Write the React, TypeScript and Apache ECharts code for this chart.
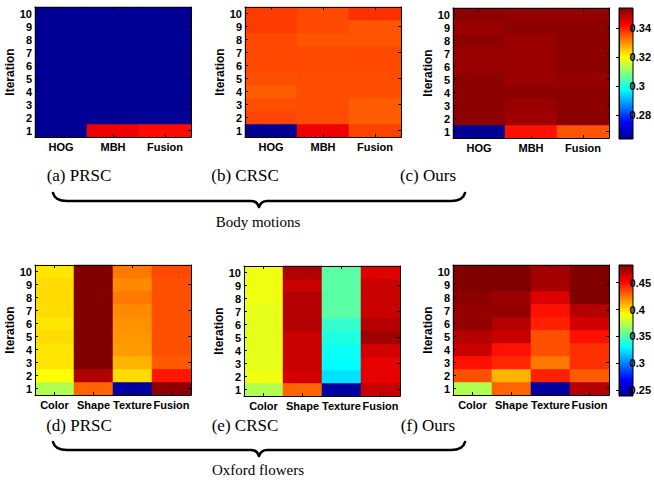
import React, { useEffect, useRef } from 'react';
import * as echarts from 'echarts';

// ---------- data ----------
const iterations = ['1', '2', '3', '4', '5', '6', '7', '8', '9', '10'];
const bodyFeatures = ['HOG', 'MBH', 'Fusion'];
const flowerFeatures = ['Color', 'Shape', 'Texture', 'Fusion'];

// each inner array: values for iterations 1..10 of one feature column
const prscBody = [
  [0.264, 0.264, 0.264, 0.264, 0.264, 0.264, 0.264, 0.264, 0.264, 0.264],
  [0.344, 0.264, 0.264, 0.264, 0.264, 0.264, 0.264, 0.264, 0.264, 0.264],
  [0.3416, 0.264, 0.264, 0.264, 0.264, 0.264, 0.264, 0.264, 0.264, 0.264],
];
const crscBody = [
  [0.264, 0.3364, 0.3354, 0.3345, 0.3354, 0.3361, 0.3361, 0.3361, 0.3372, 0.3372],
  [0.344, 0.3357, 0.3357, 0.3357, 0.3357, 0.3361, 0.3361, 0.335, 0.3361, 0.3361],
  [0.3367, 0.3345, 0.3345, 0.3357, 0.3357, 0.3361, 0.3361, 0.335, 0.335, 0.3383],
];
const oursBody = [
  [0.264, 0.3526, 0.3526, 0.3526, 0.3526, 0.3515, 0.3515, 0.3526, 0.3515, 0.3526],
  [0.3411, 0.3509, 0.3515, 0.3526, 0.3515, 0.3515, 0.3515, 0.3515, 0.3526, 0.352],
  [0.335, 0.3526, 0.3526, 0.3526, 0.352, 0.3526, 0.3526, 0.3526, 0.3526, 0.352],
];
const prscFlower = [
  [0.3725, 0.3915, 0.3975, 0.3975, 0.3998, 0.3975, 0.3998, 0.3998, 0.3998, 0.3975],
  [0.4286, 0.4715, 0.483, 0.483, 0.483, 0.483, 0.483, 0.483, 0.483, 0.483],
  [0.2439, 0.3998, 0.4096, 0.4152, 0.4166, 0.4181, 0.4196, 0.4237, 0.4196, 0.4237],
  [0.4798, 0.4476, 0.431, 0.4335, 0.4335, 0.4335, 0.4335, 0.4335, 0.4335, 0.4352],
];
const crscFlower = [
  [0.3725, 0.3878, 0.3854, 0.3854, 0.3854, 0.3854, 0.3854, 0.3878, 0.3878, 0.3878],
  [0.4286, 0.4632, 0.4657, 0.4657, 0.4657, 0.4706, 0.4706, 0.4706, 0.4657, 0.4715],
  [0.2439, 0.3232, 0.3305, 0.3329, 0.3376, 0.3425, 0.352, 0.352, 0.352, 0.352],
  [0.4657, 0.4586, 0.4586, 0.4632, 0.4752, 0.4706, 0.4657, 0.4657, 0.4657, 0.4601],
];
const oursFlower = [
  [0.3725, 0.4335, 0.4488, 0.4657, 0.4706, 0.4781, 0.4781, 0.4798, 0.483, 0.483],
  [0.4286, 0.4096, 0.443, 0.4488, 0.4657, 0.4706, 0.4781, 0.4767, 0.483, 0.483],
  [0.2439, 0.4449, 0.4237, 0.4335, 0.4335, 0.4449, 0.4488, 0.461, 0.4737, 0.4752],
  [0.4706, 0.431, 0.441, 0.441, 0.4488, 0.4632, 0.4706, 0.483, 0.483, 0.483],
];

const bodyRange = [0.2634, 0.3538];
const flowerRange = [0.239, 0.483];
const bodyTicks = [0.28, 0.3, 0.32, 0.34];
const flowerTicks = [0.25, 0.3, 0.35, 0.4, 0.45];

const captionsBody = ['(a) PRSC', '(b) CRSC', '(c) Ours'];
const captionsFlower = ['(d) PRSC', '(e) CRSC', '(f) Ours'];
const groupTitles = ['Body motions', 'Oxford flowers'];
const yName = 'Iteration';

// ---------- style / layout ----------
const jet = ['#00008f', '#0000ff', '#0080ff', '#00ffff', '#80ff80', '#ffff00', '#ff8000', '#ff0000', '#800000'];
const SANS = '"Liberation Sans", Arial, sans-serif';
const SERIF = '"Liberation Serif", "Times New Roman", serif';

const panelBoxes = [
  { left: 35, top: 7, width: 156, height: 130 },
  { left: 245, top: 7, width: 156, height: 130 },
  { left: 453, top: 8, width: 156, height: 130 },
  { left: 35, top: 265, width: 156, height: 130 },
  { left: 244, top: 266, width: 156, height: 130 },
  { left: 453, top: 265, width: 156, height: 130 },
];
const colorbarBoxes = [
  { left: 619, top: 8, width: 14, height: 131 },
  { left: 619, top: 265, width: 14, height: 131 },
];
const captionX = [79, 245, 428];
const captionY = [175, 425];
const braceY = [193, 442];
const groupTitleY = [222, 470];

const panels = [
  { features: bodyFeatures, values: prscBody, vm: 0 },
  { features: bodyFeatures, values: crscBody, vm: 0 },
  { features: bodyFeatures, values: oursBody, vm: 0 },
  { features: flowerFeatures, values: prscFlower, vm: 1 },
  { features: flowerFeatures, values: crscFlower, vm: 1 },
  { features: flowerFeatures, values: oursFlower, vm: 1 },
];

const bracePathD =
  'M0 0 Q2 8 14 8 L198 8 Q204 8 206 14 Q208 8 214 8 L398 8 Q410 8 412 0';

let braceRegistered = false;
function ensureBrace() {
  if (braceRegistered) return;
  echarts.graphic.registerShape('brace', echarts.graphic.extendPath(bracePathD, {}));
  braceRegistered = true;
}

function buildOption() {
  const labelFont = { fontFamily: SANS, fontWeight: 'bold' as const, fontSize: 11, color: '#000' };
  const lineStyle = { color: '#000', width: 1 };
  const grid: any[] = [];
  const xAxis: any[] = [];
  const yAxis: any[] = [];
  const series: any[] = [];

  panels.forEach((p, i) => {
    grid.push({ ...panelBoxes[i], containLabel: false });
    const common = {
      gridIndex: i,
      type: 'category',
      axisLine: { show: true, lineStyle, onZero: false },
      axisTick: { show: true, inside: true, alignWithLabel: true, length: 3, lineStyle },
      splitLine: { show: false },
      z: 10,
    };
    xAxis.push({ ...common, data: p.features, position: 'bottom', axisLabel: { ...labelFont, margin: 4, interval: 0 } });
    xAxis.push({ ...common, data: p.features, position: 'top', axisLabel: { show: false } });
    yAxis.push({
      ...common,
      data: iterations,
      position: 'left',
      axisLabel: { ...labelFont, margin: 3, interval: 0 },
      name: yName,
      nameLocation: 'middle',
      nameRotate: 90,
      nameGap: 13,
      nameTextStyle: { fontFamily: SANS, fontWeight: 'bold', fontSize: 12, color: '#000' },
    });
    yAxis.push({ ...common, data: iterations, position: 'right', axisLabel: { show: false } });

    const data: any[] = [];
    p.values.forEach((col, ci) => col.forEach((v, ri) => data.push([ci, ri, v])));
    series.push({
      type: 'heatmap',
      xAxisIndex: 2 * i,
      yAxisIndex: 2 * i,
      data,
      itemStyle: { borderWidth: 0 },
      emphasis: { disabled: true },
      silent: true,
    });
  });

  const ranges = [bodyRange, flowerRange];
  const ticks = [bodyTicks, flowerTicks];
  colorbarBoxes.forEach((b, k) => {
    const gi = grid.length;
    grid.push({ ...b, containLabel: false });
    xAxis.push({ gridIndex: gi, type: 'value', show: false, min: 0, max: 1 });
    yAxis.push({
      gridIndex: gi,
      type: 'value',
      min: ranges[k][0],
      max: ranges[k][1],
      position: 'right',
      axisLine: { show: true, lineStyle },
      axisTick: { show: true, inside: true, length: 3, lineStyle, customValues: ticks[k] },
      axisLabel: {
        ...labelFont,
        margin: 2,
        customValues: ticks[k],
        formatter: (v: number) => String(+v.toFixed(2)),
      },
      splitLine: { show: false },
      z: 10,
    });
  });

  const visualMap = [
    { show: false, seriesIndex: [0, 1, 2], min: bodyRange[0], max: bodyRange[1], dimension: 2, inRange: { color: jet } },
    { show: false, seriesIndex: [3, 4, 5], min: flowerRange[0], max: flowerRange[1], dimension: 2, inRange: { color: jet } },
  ];

  const stops = jet.map((c, i) => ({ offset: i / (jet.length - 1), color: c }));
  const graphic: any[] = [];
  colorbarBoxes.forEach((b) => {
    graphic.push({
      type: 'rect',
      shape: { x: b.left, y: b.top, width: b.width, height: b.height },
      style: { fill: new echarts.graphic.LinearGradient(0, 1, 0, 0, stops), stroke: '#000', lineWidth: 1 },
      z: 1,
    });
  });
  const textStyle = (text: string, x: number, y: number, size: number) => ({
    type: 'text',
    style: {
      text,
      x,
      y,
      font: `${size}px ${SERIF}`,
      fill: '#000',
      align: 'center',
      verticalAlign: 'middle',
      textAlign: 'center',
      textVerticalAlign: 'middle',
    },
    z: 20,
  });
  captionsBody.forEach((c, i) => graphic.push(textStyle(c, captionX[i], captionY[0], 17)));
  captionsFlower.forEach((c, i) => graphic.push(textStyle(c, captionX[i], captionY[1], 17)));
  groupTitles.forEach((t, i) => graphic.push(textStyle(t, 258, groupTitleY[i], 15)));
  braceY.forEach((y) => {
    graphic.push({
      type: 'brace',
      x: 53,
      y,
      scaleX: 1,
      scaleY: 1,
      shape: {},
      style: { fill: 'none', stroke: '#000', lineWidth: 2.6, lineCap: 'round', lineJoin: 'round' },
      z: 20,
    });
  });

  return {
    animation: false,
    backgroundColor: '#fff',
    grid,
    xAxis,
    yAxis,
    visualMap,
    series,
    graphic,
  };
}

export default function App() {
  const ref = useRef<HTMLDivElement>(null);
  useEffect(() => {
    if (!ref.current) return;
    ensureBrace();
    const chart = echarts.init(ref.current, undefined, { renderer: 'svg' });
    chart.setOption(buildOption() as any);
    return () => chart.dispose();
  }, []);
  return (
    <div
      ref={ref}
      style={{ position: 'fixed', left: 0, top: 0, width: 654, height: 490, background: '#fff' }}
    />
  );
}
